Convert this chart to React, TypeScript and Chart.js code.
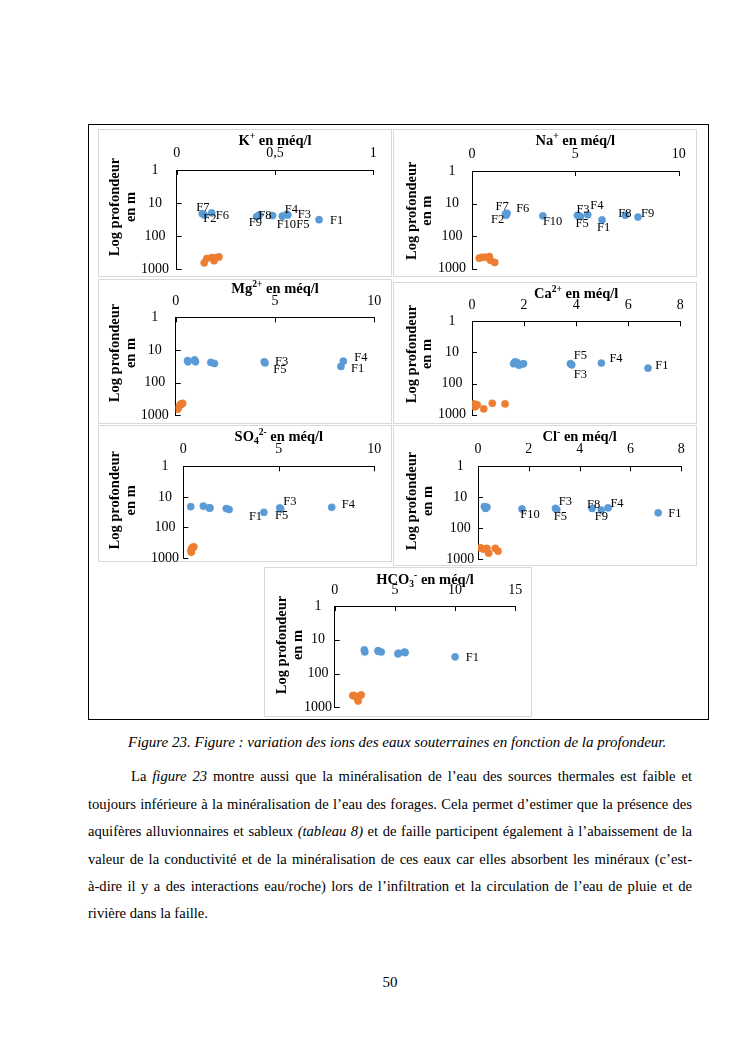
import React, { useEffect, useRef } from "react";
import { Chart, registerables } from "chart.js";

Chart.register(...registerables);

// ---------------- DATA ----------------
const FORAGES = ["F1", "F2", "F3", "F4", "F5", "F6", "F7", "F8", "F9", "F10"];
const FORAGE_DEPTH = [32, 23, 23, 22, 25, 20, 21, 23, 26, 24];
const SOURCE_DEPTH = [450, 480, 650, 430, 450, 560];
const DEPTH_TICKS = [1, 10, 100, 1000];

const K_FORAGES = [0.724, 0.14, 0.565, 0.56, 0.537, 0.178, 0.13, 0.42, 0.407, 0.488];
const K_SOURCES = [0.178, 0.153, 0.14, 0.215, 0.2, 0.19];
const K_TICKS = [0, 0.5, 1];

const NA_FORAGES = [6.29, 1.65, 5.1, 5.6, 5.25, 1.7, 1.62, 7.42, 8.03, 3.43];
const NA_SOURCES = [0.48, 0.35, 1.1, 0.84, 0.64, 0.89];
const NA_TICKS = [0, 5, 10];

const MG_FORAGES = [8.32, 0.62, 4.46, 8.44, 4.5, 0.95, 0.6, 1.0, 1.95, 1.77];
const MG_SOURCES = [0.28, 0.22, 0.1, 0.35, 0.3, 0.15];
const MG_TICKS = [0, 5, 10];

const CA_FORAGES = [6.76, 1.6, 3.78, 4.97, 3.83, 1.65, 1.72, 1.98, 1.8, 1.9];
const CA_SOURCES = [0.08, 0.2, 0.45, 0.78, 1.27, 0.12];
const CA_TICKS = [0, 2, 4, 6, 8];

const SO4_FORAGES = [4.22, 1.35, 5.05, 7.77, 5.1, 1.05, 0.39, 1.4, 2.4, 2.25];
const SO4_SOURCES = [0.5, 0.45, 0.42, 0.55, 0.5, 0.4];
const SO4_TICKS = [0, 5, 10];

const CL_FORAGES = [7.09, 0.3, 3.05, 5.12, 3.1, 0.25, 0.35, 4.49, 4.85, 1.73];
const CL_SOURCES = [0.35, 0.22, 0.42, 0.09, 0.68, 0.79];
const CL_TICKS = [0, 2, 4, 6, 8];

const HCO3_FORAGES = [10.0, 2.5, 3.87, 3.62, 5.3, 2.46, 3.6, 5.8, 5.25, 5.85];
const HCO3_SOURCES = [1.5, 1.8, 1.95, 2.2, 1.6, 1.9];
const HCO3_TICKS = [0, 5, 10, 15];

const Y_TITLE = ["Log profondeur", "en m"];

// ---------------- STYLE / LAYOUT ----------------
const FAMILY = '"Liberation Serif", "Times New Roman", serif';
const BLUE = "#5B9BD5";
const ORANGE = "#ED7D31";
const AXIS = "#000000";
const TICK_SIZE = 14;
const TITLE_SIZE = 14.5;
const LABEL_SIZE = 12.5;

type Seg = [string, number]; // 0 normal, 1 sup, 2 sub
type Spec = {
  title: Seg[];
  forages: number[];
  sources: number[];
  xTicks: number[];
  labels: [string, number, number][];
  panel: [number, number, number, number];
  plot: [number, number, number, number];
  titleY: number;
  xLabelY: number;
  yLabelX: number;
  yTitle: [number, number, number];
};

const SPECS: Spec[] = [
  {
    title: [["K", 0], ["+", 1], [" en méq/l", 0]],
    forages: K_FORAGES, sources: K_SOURCES, xTicks: K_TICKS,
    labels: [["F7", -6, -6], ["F2", -1, 4], ["F6", 4, 3], ["F9", -8, 6], ["F8", -1, 1],
      ["F10", 4, 9], ["F5", 14, 9], ["F4", -2, -5], ["F3", 10, 0], ["F1", 11, 1]],
    panel: [98, 129, 392, 277], plot: [176.7, 170, 373.3, 269],
    titleY: 140, xLabelY: 153.3, yLabelX: 155, yTitle: [115.7, 131.7, 207],
  },
  {
    title: [["Na", 0], ["+", 1], [" en méq/l", 0]],
    forages: NA_FORAGES, sources: NA_SOURCES, xTicks: NA_TICKS,
    labels: [["F7", -10, -7.5], ["F2", -15, 4.5], ["F6", 9, -4.5], ["F10", 0, 5.6], ["F3", -1, -5.5],
      ["F5", -5, 7.6], ["F4", 2.5, -9], ["F1", -5, 8], ["F8", -7, -2], ["F9", 3, -3]],
    panel: [393, 129, 697, 277], plot: [472, 171, 678.7, 268.5],
    titleY: 140, xLabelY: 154.3, yLabelX: 452, yTitle: [412, 427, 210.7],
  },
  {
    title: [["Mg", 0], ["2+", 1], [" en méq/l", 0]],
    forages: MG_FORAGES, sources: MG_SOURCES, xTicks: MG_TICKS,
    labels: [["F3", 10.7, -0.5], ["F5", 8.2, 6.7], ["F1", 10, 2.2], ["F4", 11, -3.2]],
    panel: [98, 279, 392, 424], plot: [175.7, 317.3, 374.3, 415.3],
    titleY: 288, xLabelY: 301.3, yLabelX: 154.7, yTitle: [115.7, 131, 353],
  },
  {
    title: [["Ca", 0], ["2+", 1], [" en méq/l", 0]],
    forages: CA_FORAGES, sources: CA_SOURCES, xTicks: CA_TICKS,
    labels: [["F5", 2, -9.5], ["F3", 3.3, 11], ["F4", 8, -4], ["F1", 7.3, -2]],
    panel: [393, 282, 697, 424], plot: [472, 321.3, 680.3, 414.7],
    titleY: 293, xLabelY: 305.3, yLabelX: 452, yTitle: [412, 427, 354],
  },
  {
    title: [["SO", 0], ["4", 2], ["2-", 1], [" en méq/l", 0]],
    forages: SO4_FORAGES, sources: SO4_SOURCES, xTicks: SO4_TICKS,
    labels: [["F1", -15, 4.6], ["F3", 3.5, -6], ["F5", -5.7, 6.2], ["F4", 10, -2.7]],
    panel: [98, 425, 392, 562], plot: [183.3, 466.3, 374.3, 558],
    titleY: 436.3, xLabelY: 449, yLabelX: 165, yTitle: [115, 131, 500.3],
  },
  {
    title: [["Cl", 0], ["-", 1], [" en méq/l", 0]],
    forages: CL_FORAGES, sources: CL_SOURCES, xTicks: CL_TICKS,
    labels: [["F10", -1.6, 6], ["F3", 3.2, -7.1], ["F5", -3, 7.5], ["F8", -5, -3.7], ["F9", -6.5, 7],
      ["F4", 2.3, -4], ["F1", 10, 1]],
    panel: [393, 425, 697, 566], plot: [478, 466.3, 681.3, 559],
    titleY: 436.3, xLabelY: 449, yLabelX: 460.3, yTitle: [412, 428, 501],
  },
  {
    title: [["HCO", 0], ["3", 2], ["-", 1], [" en méq/l", 0]],
    forages: HCO3_FORAGES, sources: HCO3_SOURCES, xTicks: HCO3_TICKS,
    labels: [["F1", 10.7, 1]],
    panel: [264, 567, 532, 717], plot: [334.7, 606, 515.3, 707.3],
    titleY: 579, xLabelY: 590, yLabelX: 318, yTitle: [282, 298, 645],
  },
];

function drawRich(ctx: CanvasRenderingContext2D, segs: Seg[], cx: number, cy: number, size: number) {
  const norm = `bold ${size}px ${FAMILY}`;
  const small = `bold ${size * 0.66}px ${FAMILY}`;
  let w = 0;
  for (const [t, m] of segs) {
    ctx.font = m ? small : norm;
    w += ctx.measureText(t).width;
  }
  let x = cx - w / 2;
  const base = cy + size * 0.32;
  ctx.textAlign = "left";
  ctx.textBaseline = "alphabetic";
  for (const [t, m] of segs) {
    ctx.font = m ? small : norm;
    const dy = m === 1 ? -size * 0.4 : m === 2 ? size * 0.22 : 0;
    ctx.fillText(t, x, base + dy);
    x += ctx.measureText(t).width;
  }
}

function annotPlugin(spec: Spec) {
  return {
    id: "annot",
    afterDatasetsDraw(chart: any) {
      const ctx: CanvasRenderingContext2D = chart.ctx;
      const xs = chart.scales.x;
      const ys = chart.scales.y;
      const [pl, pt] = spec.panel;
      ctx.save();
      // inside tick marks
      ctx.strokeStyle = AXIS;
      ctx.lineWidth = 1;
      ctx.beginPath();
      for (const v of DEPTH_TICKS) {
        const y = Math.round(ys.getPixelForValue(v)) + 0.5;
        ctx.moveTo(xs.left, y);
        ctx.lineTo(xs.left + 5, y);
      }
      for (const v of spec.xTicks) {
        const x = Math.round(xs.getPixelForValue(v)) + 0.5;
        ctx.moveTo(x, ys.top);
        ctx.lineTo(x, ys.top + 5);
      }
      ctx.stroke();
      // data labels
      ctx.fillStyle = "#000";
      ctx.font = `${LABEL_SIZE}px ${FAMILY}`;
      ctx.textAlign = "left";
      ctx.textBaseline = "middle";
      const meta = chart.getDatasetMeta(0);
      for (const [name, dx, dy] of spec.labels) {
        const el = meta.data[FORAGES.indexOf(name)];
        if (el) ctx.fillText(name, el.x + dx, el.y + dy);
      }
      // chart title
      drawRich(ctx, spec.title, (xs.left + xs.right) / 2, spec.titleY - pt, TITLE_SIZE);
      // y axis title (two rotated lines)
      ctx.font = `bold ${TITLE_SIZE}px ${FAMILY}`;
      ctx.textAlign = "center";
      ctx.textBaseline = "middle";
      const [x1, x2, cy] = spec.yTitle;
      [x1, x2].forEach((x, i) => {
        ctx.save();
        ctx.translate(x - pl, cy - pt);
        ctx.rotate(-Math.PI / 2);
        ctx.fillText(Y_TITLE[i], 0, 0);
        ctx.restore();
      });
      ctx.restore();
    },
  };
}

function IonChart({ spec }: { spec: Spec }) {
  const ref = useRef<HTMLCanvasElement | null>(null);
  const [pl, pt, pr, pb] = spec.panel;
  const W = pr - pl;
  const H = pb - pt;
  useEffect(() => {
    const [al, at, ar, ab] = spec.plot;
    const meas = document.createElement("canvas").getContext("2d")!;
    meas.font = `${TICK_SIZE}px ${FAMILY}`;
    const widest = meas.measureText("1000").width;
    const yPad = al - spec.yLabelX - widest / 2;
    const xPad = at - spec.xLabelY - (TICK_SIZE * 1.2) / 2;
    const tickFont = { family: FAMILY, size: TICK_SIZE, lineHeight: 1.2 };
    const noPad = (s: any) => {
      s.paddingTop = 0;
      s.paddingBottom = 0;
      s.paddingLeft = 0;
      s.paddingRight = 0;
    };
    const chart = new Chart(ref.current!, {
      type: "scatter",
      data: {
        datasets: [
          {
            data: spec.forages.map((v, i) => ({ x: v, y: FORAGE_DEPTH[i] })),
            backgroundColor: BLUE,
            borderColor: BLUE,
            borderWidth: 0.5,
            pointRadius: 3.6,
          },
          {
            data: spec.sources.map((v, i) => ({ x: v, y: SOURCE_DEPTH[i] })),
            backgroundColor: ORANGE,
            borderColor: ORANGE,
            borderWidth: 0.5,
            pointRadius: 3.6,
          },
        ],
      },
      options: {
        responsive: false,
        animation: false,
        devicePixelRatio: 1,
        layout: {
          autoPadding: false,
          padding: { left: 0, top: 0, right: W - (ar - pl), bottom: H - (ab - pt) },
        },
        plugins: {
          legend: { display: false },
          tooltip: { enabled: false },
          title: { display: false },
        },
        scales: {
          x: {
            type: "linear",
            position: "top",
            min: spec.xTicks[0],
            max: spec.xTicks[spec.xTicks.length - 1],
            afterBuildTicks: (s: any) => {
              s.ticks = spec.xTicks.map((v) => ({ value: v }));
            },
            afterFit: (s: any) => {
              s.height = at - pt;
              noPad(s);
            },
            ticks: {
              font: tickFont,
              color: "#000",
              padding: xPad,
              maxRotation: 0,
              autoSkip: false,
              callback: (v: any) => String(v).replace(".", ","),
            },
            grid: { display: false, drawTicks: false },
            border: { display: true, color: AXIS, width: 1 },
          },
          y: {
            type: "logarithmic",
            position: "left",
            reverse: true,
            min: 1,
            max: 1000,
            afterBuildTicks: (s: any) => {
              s.ticks = DEPTH_TICKS.map((v) => ({ value: v, major: true }));
            },
            afterFit: (s: any) => {
              s.width = al - pl;
              noPad(s);
            },
            ticks: {
              font: tickFont,
              color: "#000",
              padding: yPad,
              crossAlign: "center",
              autoSkip: false,
              callback: (v: any) => String(v),
            },
            grid: { display: false, drawTicks: false },
            border: { display: true, color: AXIS, width: 1 },
          },
        },
      } as any,
      plugins: [annotPlugin(spec)],
    });
    return () => chart.destroy();
  }, [spec]);
  return (
    <canvas
      ref={ref}
      width={W}
      height={H}
      style={{ position: "absolute", left: pl, top: pt, width: W, height: H }}
    />
  );
}

const PARA_LINES: React.ReactNode[] = [
  <>La <i>figure 23</i> montre aussi que la minéralisation de l’eau des sources thermales est faible et</>,
  <>toujours inférieure à la minéralisation de l’eau des forages. Cela permet d’estimer que la présence des</>,
  <>aquifères alluvionnaires et sableux <i>(tableau 8)</i> et de faille participent également à l’abaissement de la</>,
  <>valeur de la conductivité et de la minéralisation de ces eaux car elles absorbent les minéraux (c’est-</>,
  <>à-dire il y a des interactions eau/roche) lors de l’infiltration et la circulation de l’eau de pluie et de</>,
  <>rivière dans la faille.</>,
];

export default function App() {
  return (
    <div
      style={{
        position: "absolute",
        left: 0,
        top: 0,
        width: 745,
        height: 1053,
        background: "#fff",
        fontFamily: FAMILY,
        color: "#000",
        overflow: "hidden",
      }}
    >
      <div
        style={{
          position: "absolute",
          left: 88,
          top: 124,
          width: 621,
          height: 596,
          border: "1px solid #000",
          boxSizing: "border-box",
        }}
      />
      {SPECS.map((s, i) => (
        <React.Fragment key={i}>
          <div
            style={{
              position: "absolute",
              left: s.panel[0],
              top: s.panel[1],
              width: s.panel[2] - s.panel[0],
              height: s.panel[3] - s.panel[1],
              border: "1px solid #d9d9d9",
              boxSizing: "border-box",
              background: "#fff",
            }}
          />
          <IonChart spec={s} />
        </React.Fragment>
      ))}
      <div
        style={{
          position: "absolute",
          left: 128,
          top: 732,
          fontSize: 15,
          lineHeight: "20px",
          fontStyle: "italic",
          whiteSpace: "nowrap",
        }}
      >
        Figure 23. Figure : variation des ions des eaux souterraines en fonction de la profondeur.
      </div>
      {PARA_LINES.map((line, i) => (
        <div
          key={i}
          style={{
            position: "absolute",
            left: 88,
            top: 763.3 + i * 27.4,
            width: 604,
            fontSize: 14.6,
            lineHeight: "27.4px",
            textAlign: i < PARA_LINES.length - 1 ? "justify" : "left",
            textAlignLast: i < PARA_LINES.length - 1 ? "justify" : "left",
            textIndent: i === 0 ? 43 : 0,
          }}
        >
          {line}
        </div>
      ))}
      <div
        style={{
          position: "absolute",
          left: 0,
          width: 780,
          top: 972,
          fontSize: 15,
          lineHeight: "20px",
          textAlign: "center",
        }}
      >
        50
      </div>
    </div>
  );
}
